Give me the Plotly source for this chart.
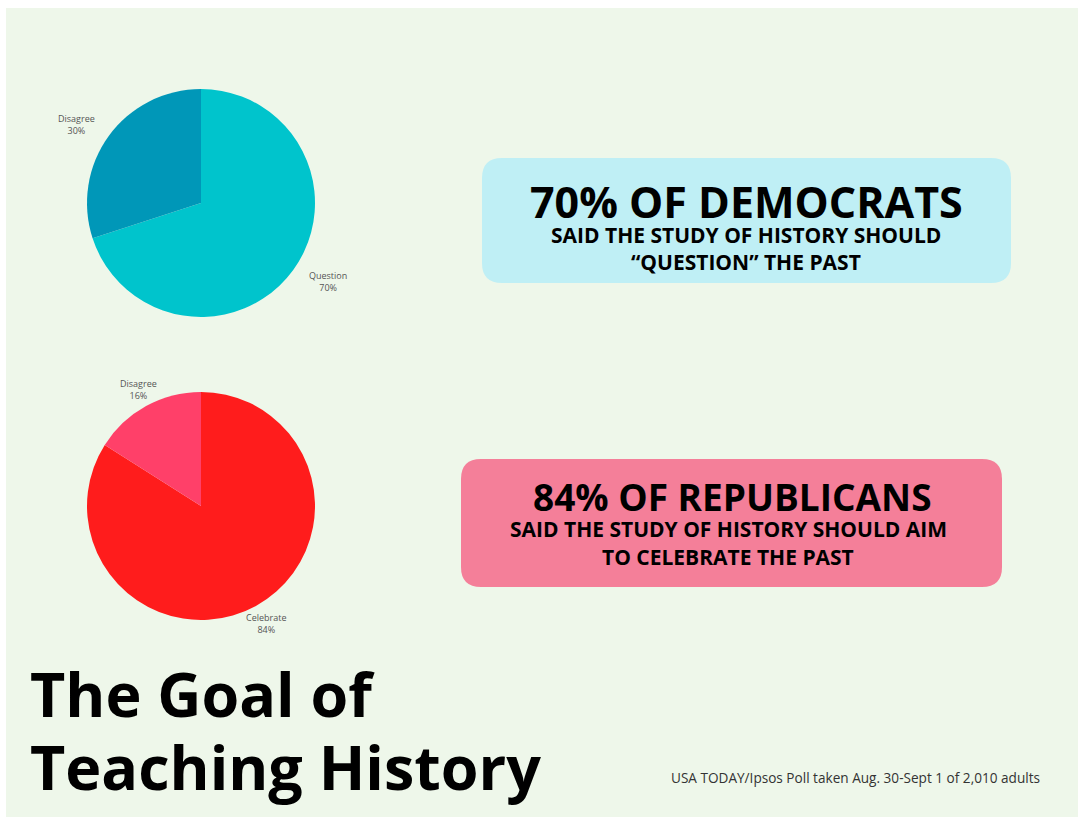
import plotly.graph_objects as go

W, H = 1078, 817

# Data
dem_labels = ["Question", "Disagree"]
dem_values = [70, 30]
dem_colors = ["#00C4CC", "#0097B8"]

rep_labels = ["Celebrate", "Disagree"]
rep_values = [84, 16]
rep_colors = ["#FF1C1C", "#FF4069"]

title_lines = ["The Goal of", "Teaching History"]
source = "USA TODAY/Ipsos Poll taken Aug. 30-Sept 1 of 2,010 adults"


def dom(cx, cy, r):
    return dict(x=[(cx - r) / W, (cx + r) / W], y=[1 - (cy + r) / H, 1 - (cy - r) / H])


def rrect(x0, y0, x1, y1, r):
    return (f"M {x0+r},{y0} L {x1-r},{y0} Q {x1},{y0} {x1},{y0+r} "
            f"L {x1},{y1-r} Q {x1},{y1} {x1-r},{y1} L {x0+r},{y1} "
            f"Q {x0},{y1} {x0},{y1-r} L {x0},{y0+r} Q {x0},{y0} {x0+r},{y0} Z")


fig = go.Figure()
fig.add_trace(go.Pie(labels=dem_labels, values=dem_values, sort=False, direction="clockwise",
                     rotation=0, marker=dict(colors=dem_colors, line=dict(width=0)),
                     textinfo="none", hoverinfo="label+percent", showlegend=False,
                     domain=dom(201, 203, 114)))
fig.add_trace(go.Pie(labels=rep_labels, values=rep_values, sort=False, direction="clockwise",
                     rotation=0, marker=dict(colors=rep_colors, line=dict(width=0)),
                     textinfo="none", hoverinfo="label+percent", showlegend=False,
                     domain=dom(201, 506, 114)))

shapes = [
    dict(type="rect", xref="x", yref="y", x0=6, y0=8, x1=1078, y1=817,
         fillcolor="#EEF7EA", line=dict(width=0), layer="below"),
    dict(type="path", xref="x", yref="y", path=rrect(482, 158, 1011, 283, 20),
         fillcolor="#BFEFF5", line=dict(width=0), layer="below"),
    dict(type="path", xref="x", yref="y", path=rrect(461, 459, 1002, 587, 20),
         fillcolor="#F47F99", line=dict(width=0), layer="below"),
]

ann = []
small = dict(family="Open Sans", size=9, color="#555555")
pie_labels = [
    (76, 124, f"{dem_labels[1]}<br>{dem_values[1]}%"),
    (328, 281, f"{dem_labels[0]}<br>{dem_values[0]}%"),
    (138, 389, f"{rep_labels[1]}<br>{rep_values[1]}%"),
    (266, 623, f"{rep_labels[0]}<br>{rep_values[0]}%"),
]
for x, y, t in pie_labels:
    ann.append(dict(x=x, y=y, text=t, showarrow=False, font=small, xanchor="center", yanchor="middle"))

bold = "Open Sans"
ann += [
    dict(x=746, y=201, text=f"<b>{dem_values[0]}% OF DEMOCRATS</b>", showarrow=False,
         font=dict(family=bold, size=43, color="#000000")),
    dict(x=746, y=235, text="<b>SAID THE STUDY OF HISTORY SHOULD</b>", showarrow=False,
         font=dict(family=bold, size=21, color="#000000")),
    dict(x=746, y=262, text="<b>“QUESTION” THE PAST</b>", showarrow=False,
         font=dict(family=bold, size=21, color="#000000")),
    dict(x=732, y=496, text=f"<b>{rep_values[0]}% OF REPUBLICANS</b>", showarrow=False,
         font=dict(family=bold, size=37, color="#000000")),
    dict(x=728, y=529, text="<b>SAID THE STUDY OF HISTORY SHOULD AIM</b>", showarrow=False,
         font=dict(family=bold, size=21, color="#000000")),
    dict(x=728, y=557, text="<b>TO CELEBRATE THE PAST</b>", showarrow=False,
         font=dict(family=bold, size=21, color="#000000")),
    dict(x=28, y=693, text=f"<b>{title_lines[0]}</b>", showarrow=False, xanchor="left",
         font=dict(family=bold, size=61, color="#000000")),
    dict(x=28, y=766, text=f"<b>{title_lines[1]}</b>", showarrow=False, xanchor="left",
         font=dict(family=bold, size=61, color="#000000")),
    dict(x=669, y=777, text=source, showarrow=False, xanchor="left",
         font=dict(family="Open Sans", size=13.6, color="#333333")),
]

fig.update_layout(
    width=W, height=H, margin=dict(l=0, r=0, t=0, b=0),
    paper_bgcolor="#FFFFFF", plot_bgcolor="rgba(0,0,0,0)",
    xaxis=dict(range=[0, W], visible=False, fixedrange=True),
    yaxis=dict(range=[H, 0], visible=False, fixedrange=True),
    shapes=shapes, annotations=ann, showlegend=False,
)
fig.write_html("out.html")
